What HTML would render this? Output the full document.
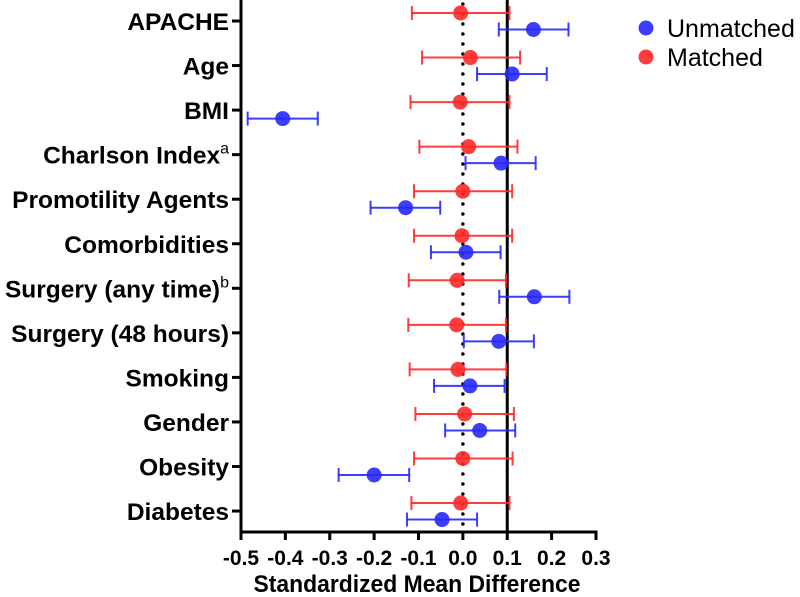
<!DOCTYPE html>
<html><head><meta charset="utf-8"><style>
html,body{margin:0;padding:0;background:#fff;}
svg{display:block;font-family:"Liberation Sans",Arial,sans-serif;}
</style></head><body>
<svg id="chart" width="800" height="597" viewBox="0 0 800 597"></svg>
<script>
const categories=["APACHE","Age","BMI","Charlson Index","Promotility Agents","Comorbidities","Surgery (any time)","Surgery (48 hours)","Smoking","Gender","Obesity","Diabetes"];
const superscripts=["","","","a","","","b","","","","",""];
const matchedMean=[-0.005,0.017,-0.006,0.013,0.0,-0.002,-0.013,-0.014,-0.011,0.004,0.0,-0.005];
const matchedLow=[-0.115,-0.092,-0.118,-0.098,-0.110,-0.110,-0.122,-0.123,-0.120,-0.107,-0.110,-0.116];
const matchedHigh=[0.105,0.129,0.105,0.123,0.111,0.111,0.097,0.097,0.098,0.115,0.112,0.105];
const unmatchedMean=[0.159,0.111,-0.406,0.086,-0.129,0.007,0.161,0.081,0.016,0.038,-0.200,-0.047];
const unmatchedLow=[0.081,0.032,-0.485,0.006,-0.208,-0.072,0.082,0.002,-0.065,-0.040,-0.280,-0.126];
const unmatchedHigh=[0.238,0.189,-0.327,0.164,-0.051,0.085,0.240,0.160,0.094,0.118,-0.121,0.032];
const xTicks=[-0.5,-0.4,-0.3,-0.2,-0.1,0.0,0.1,0.2,0.3];
const refLine=0.1;

const NS="http://www.w3.org/2000/svg";
const svg=document.getElementById("chart");
const x0=241,x1=596,xmin=-0.5,xmax=0.3,axisY=532;
function xs(v){return x0+(v-xmin)/(xmax-xmin)*(x1-x0);}
function ys(i){return 21+i*44.55;}
function el(tag,attrs,parent){const e=document.createElementNS(NS,tag);for(const k in attrs)e.setAttribute(k,attrs[k]);(parent||svg).appendChild(e);return e;}

const zl=el("line",{x1:xs(0),x2:xs(0),y1:4,y2:axisY,stroke:"#000","stroke-width":3.5,"stroke-dasharray":"0 10","stroke-linecap":"round"});


const rl=el("line",{x1:xs(refLine),x2:xs(refLine),y1:0,y2:axisY,stroke:"#000","stroke-width":3});



const ya=el("line",{x1:x0,x2:x0,y1:0,y2:axisY+1.5,stroke:"#000","stroke-width":3});


const xa=el("line",{x1:x0-1.5,x2:x1+1.5,y1:axisY,y2:axisY,stroke:"#000","stroke-width":3});



xTicks.forEach(t=>{
  const tk=el("line",{x1:xs(t),x2:xs(t),y1:axisY,y2:axisY+8,stroke:"#000","stroke-width":3});
  
  
  const tl=el("text",{x:xs(t),y:565,"text-anchor":"middle","font-size":21,"font-weight":"bold",fill:"#000"});
  tl.textContent=t.toFixed(1);
  
  
});

const title=el("text",{x:417,y:592,"text-anchor":"middle","font-size":24,"font-weight":"bold",fill:"#000",textLength:327,lengthAdjust:"spacingAndGlyphs"});
title.textContent="Standardized Mean  Difference";



function series(mean,low,high,i,dy,color,name){
  const y=ys(i)+dy;
  const g=el("g",{});
  
  
  el("line",{x1:xs(low[i]),x2:xs(high[i]),y1:y,y2:y,stroke:color,"stroke-width":2},g);
  el("line",{x1:xs(low[i]),x2:xs(low[i]),y1:y-7,y2:y+7,stroke:color,"stroke-width":2},g);
  el("line",{x1:xs(high[i]),x2:xs(high[i]),y1:y-7,y2:y+7,stroke:color,"stroke-width":2},g);
  el("circle",{cx:xs(mean[i]),cy:y,r:7.5,fill:color},g);
}

categories.forEach((c,i)=>{
  const y=ys(i);
  const tk=el("line",{x1:x0-9,x2:x0,y1:y,y2:y,stroke:"#000","stroke-width":3});
  
  
  const tx=el("text",{x:229,y:y+9,"text-anchor":"end","font-size":24.5,"font-weight":"bold",fill:"#000"});
  tx.textContent=c;
  if(superscripts[i]){
    const s=document.createElementNS(NS,"tspan");
    s.setAttribute("font-size","16");s.setAttribute("font-weight","normal");s.setAttribute("dy","-10");
    s.textContent=superscripts[i];tx.appendChild(s);
  }
  
  
  series(unmatchedMean,unmatchedLow,unmatchedHigh,i,8.5,"rgba(40,40,255,0.9)","unmatched-point");
  series(matchedMean,matchedLow,matchedHigh,i,-8,"rgba(255,40,40,0.9)","matched-point");
});

const lg=el("g",{});


[["Unmatched","rgba(40,40,255,0.9)",28],["Matched","rgba(255,40,40,0.9)",57]].forEach(([t,c,y])=>{
  const e=el("g",{},lg);
  
  
  el("circle",{cx:646,cy:y,r:7.5,fill:c},e);
  const tt=el("text",{x:667,y:y+9,"font-size":25,fill:"#000"},e);
  tt.textContent=t;
});
</script>
</body></html>
